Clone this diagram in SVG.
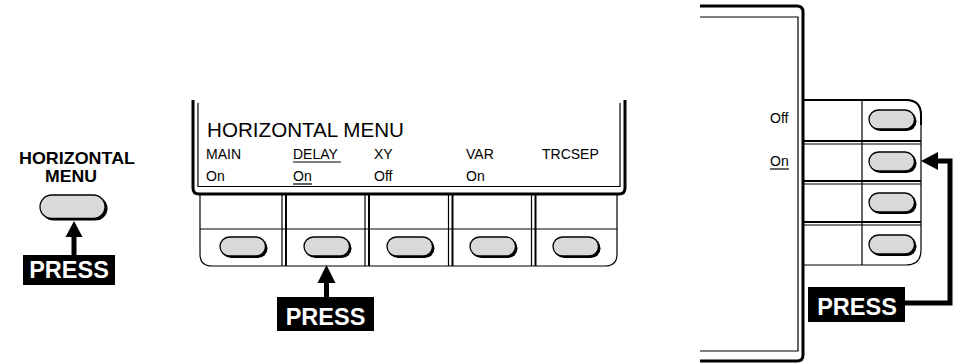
<svg xmlns="http://www.w3.org/2000/svg" width="960" height="364" viewBox="0 0 960 364">
<style>
.bg{fill:#fff}
.thick{fill:none;stroke:#000;stroke-width:3;stroke-linejoin:round}
.thin{fill:none;stroke:#000;stroke-width:1.2}
.med{fill:none;stroke:#000;stroke-width:2}
.btn{fill:#d9d9d9;stroke:#000;stroke-width:1.3}
.shd{fill:#000}
.lbl{font-family:"Liberation Sans",Arial,sans-serif;font-size:14px;fill:#000}
.title{font-family:"Liberation Sans",Arial,sans-serif;font-size:20px;fill:#000}
.bold{font-family:"Liberation Sans",Arial,sans-serif;font-weight:bold;font-size:16.5px;fill:#000}
.press{fill:#000}
.presst{font-family:"Liberation Sans",Arial,sans-serif;font-weight:bold;font-size:23.5px;fill:#fff;text-anchor:middle}
.arrow{fill:none;stroke:#000;stroke-width:5}
</style>
<defs>
<g id="sbtn">
<rect class="shd" x="-21.5" y="-8.5" width="46" height="19.5" rx="9.75"/>
<rect class="btn" x="-23" y="-10" width="45.5" height="19" rx="9.5"/>
</g>
</defs>
<rect class="bg" x="0" y="0" width="960" height="364"/>

<g id="hmenu-button">
<text class="bold" x="19" y="164" textLength="116" lengthAdjust="spacingAndGlyphs">HORIZONTAL</text>
<text class="bold" x="45" y="182" textLength="52" lengthAdjust="spacingAndGlyphs">MENU</text>
<rect class="shd" x="41.5" y="196.5" width="66" height="24" rx="12"/>
<rect class="btn" x="40" y="195" width="65" height="23.5" rx="11.75"/>
</g>

<g id="press-left">
<rect class="press" x="23" y="255" width="92" height="30"/>
<text class="presst" x="69" y="278">PRESS</text>
</g>

<g id="screen">
<path class="thick" d="M193,100 V188 Q193,194 199,194 H619 Q625,194 625,188 V100"/>
<path class="thin" d="M198,103 V186.5 H620 V103"/>
<text class="title" x="207" y="137" textLength="197" lengthAdjust="spacingAndGlyphs">HORIZONTAL MENU</text>
<text class="lbl" x="206" y="159">MAIN</text>
<text class="lbl" x="206" y="181">On</text>
<text class="lbl" x="293" y="159">DELAY</text>
<line class="thin" x1="293" y1="162" x2="341" y2="162"/>
<text class="lbl" x="293" y="181">On</text>
<line class="thin" x1="293" y1="184" x2="312" y2="184"/>
<text class="lbl" x="374" y="159">XY</text>
<text class="lbl" x="374" y="181">Off</text>
<text class="lbl" x="466" y="159">VAR</text>
<text class="lbl" x="466" y="181">On</text>
<text class="lbl" x="542" y="159">TRCSEP</text>
</g>

<g id="bottom-panel">
<path class="thin" d="M200,194 V254 Q200,266 212,266 H605 Q617,266 617,254 V194"/>
<line class="thin" x1="200" y1="229" x2="617" y2="229"/>
<line class="thin" x1="282" y1="194" x2="282" y2="266"/>
<line class="med" x1="286" y1="194" x2="286" y2="266"/>
<line class="thin" x1="365" y1="194" x2="365" y2="266"/>
<line class="med" x1="369" y1="194" x2="369" y2="266"/>
<line class="thin" x1="448.5" y1="194" x2="448.5" y2="266"/>
<line class="med" x1="452.5" y1="194" x2="452.5" y2="266"/>
<line class="thin" x1="531.5" y1="194" x2="531.5" y2="266"/>
<line class="med" x1="535.5" y1="194" x2="535.5" y2="266"/>
<use href="#sbtn" x="243" y="247"/>
<use href="#sbtn" x="327" y="247"/>
<use href="#sbtn" x="410" y="247"/>
<use href="#sbtn" x="493" y="247"/>
<use href="#sbtn" x="576" y="247"/>
</g>

<g id="press-middle">
<rect class="press" x="277" y="297" width="97" height="34"/>
<text class="presst" x="325.5" y="325">PRESS</text>
</g>

<g id="side-bezel">
<path class="thick" d="M700,6 H797 Q803,6 803,12 V355 Q803,361 797,361 H700"/>
<path class="thin" d="M700,17 H798 V351 H700"/>
<text class="lbl" x="770" y="123">Off</text>
<text class="lbl" x="770" y="166">On</text>
<line class="thin" x1="770" y1="169" x2="789" y2="169"/>
</g>

<g id="side-panel">
<path class="thin" d="M803,100 H906 Q921,100 921,115 V250 Q921,265 906,265 H803"/>
<path class="med" d="M803,100 H906 Q921,100 921,115 V125"/>
<line class="thin" x1="862" y1="100" x2="862" y2="265"/>
<line class="med" x1="803" y1="141" x2="921" y2="141"/>
<line class="thin" x1="803" y1="144" x2="921" y2="144"/>
<line class="med" x1="803" y1="181" x2="921" y2="181"/>
<line class="thin" x1="803" y1="184" x2="921" y2="184"/>
<line class="med" x1="803" y1="222" x2="921" y2="222"/>
<line class="thin" x1="803" y1="225" x2="921" y2="225"/>
<use href="#sbtn" x="892" y="120"/>
<use href="#sbtn" x="892" y="162"/>
<use href="#sbtn" x="892" y="203"/>
<use href="#sbtn" x="892" y="245"/>
</g>

<g id="press-right">
<rect class="press" x="808" y="287" width="97" height="35"/>
<text class="presst" x="857" y="315">PRESS</text>
</g>

<g id="connectors">
<line class="arrow" x1="74" y1="255" x2="74" y2="235"/>
<polygon class="press" points="74,221 65.5,237 82.5,237"/>
<line class="arrow" x1="326.5" y1="297" x2="326.5" y2="281"/>
<polygon class="press" points="326.5,265 317.5,283 335.5,283"/>
<path class="arrow" d="M905,303 H950 V161 H935" stroke-linejoin="miter"/>
<polygon class="press" points="921,161 938,152 938,170"/>
</g>
</svg>
